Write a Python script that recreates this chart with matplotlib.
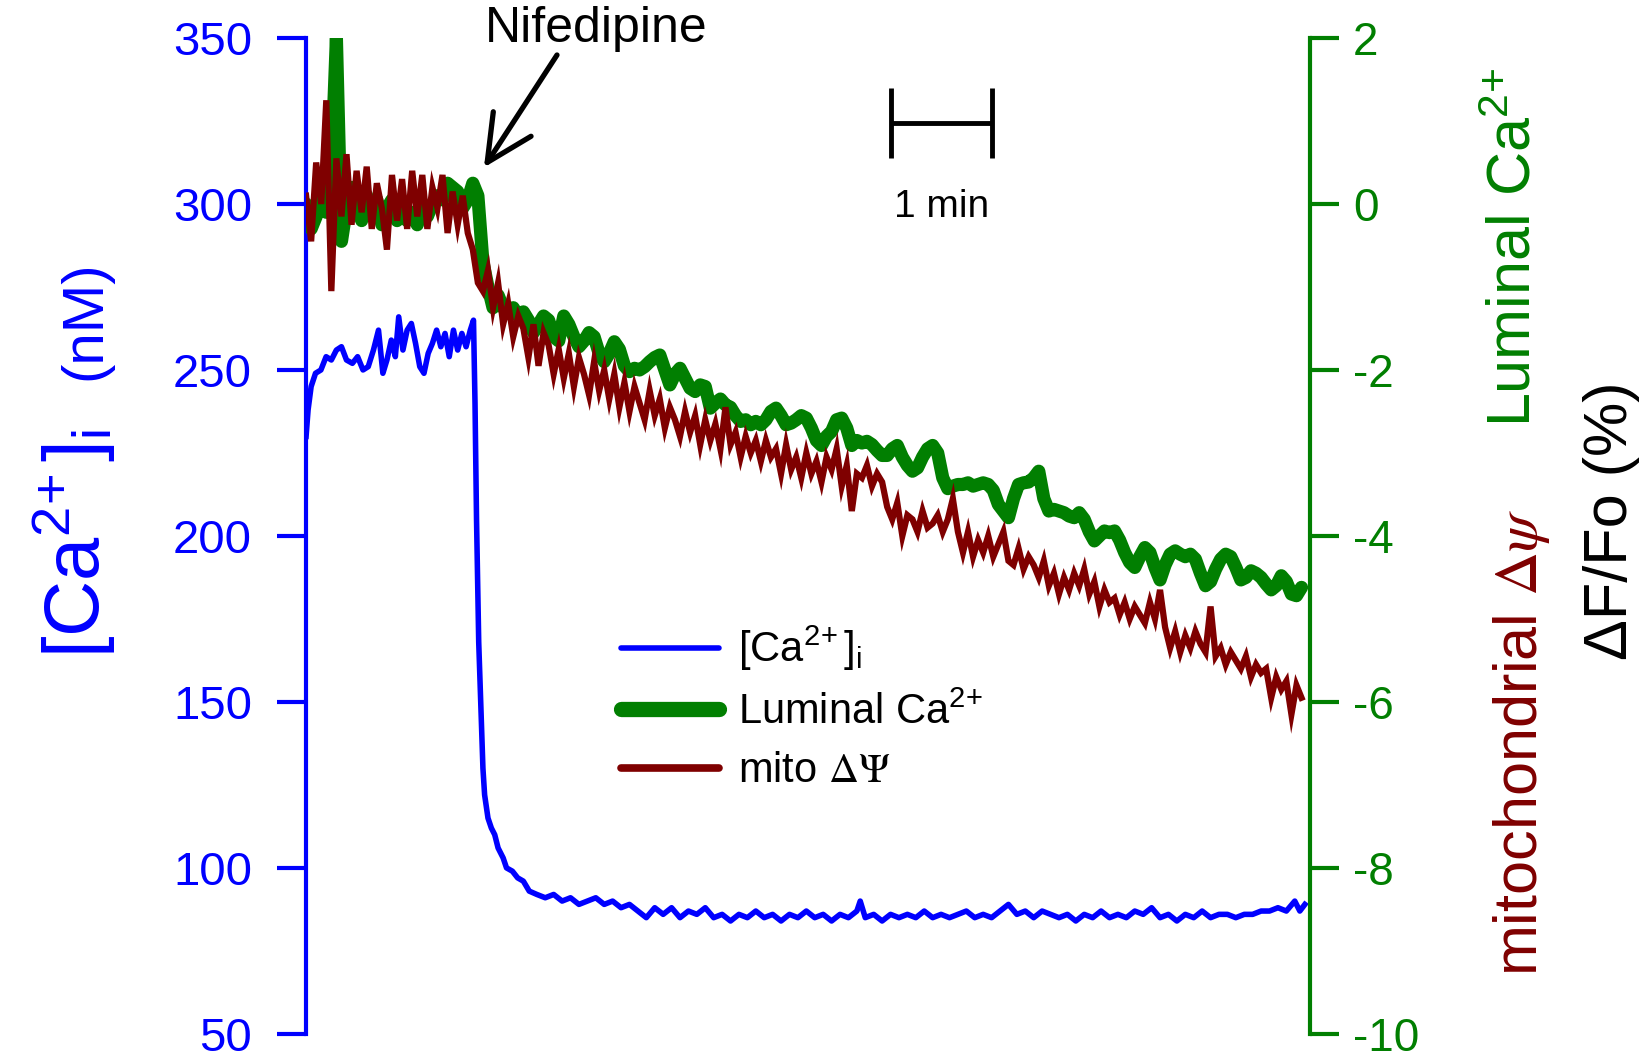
"""Cytosolic Ca2+, luminal Ca2+ and mitochondrial potential after nifedipine."""

import numpy as np
import matplotlib
matplotlib.use("Agg")
import matplotlib.pyplot as plt
from matplotlib.lines import Line2D

plt.rcParams["font.family"] = ["Liberation Sans", "DejaVu Sans"]
plt.rcParams["mathtext.fontset"] = "custom"
plt.rcParams["mathtext.rm"] = "Liberation Sans"
plt.rcParams["mathtext.it"] = "Liberation Sans:italic"
plt.rcParams["mathtext.bf"] = "Liberation Sans:bold"
plt.rcParams["axes.unicode_minus"] = False

BLUE = "#0000ff"
GREEN = "#017f01"
RED = "#7f0000"

# [Ca2+]i trace (s, nM)
cyto_t = [0, 1.2, 3, 5.6, 8.8, 11.9, 15, 18, 21, 24, 27.5, 30.6, 33.8, 36.9, 40,
          43, 45.6, 48, 50.6, 53, 55, 57.5, 60, 62.5, 65, 67.5, 70, 72.5, 75,
          77.5, 80, 82.5, 85, 87.5, 90, 92.5, 95, 97.5, 99.4, 100.3, 101.2,
          102.5, 104, 105, 106, 108, 110, 112, 114, 117, 119, 122.5, 125.6,
          129, 132.5, 137, 142, 147, 152, 157, 162, 167, 172, 177, 182, 187,
          192, 197, 202, 207, 212, 217, 222, 227, 232, 237, 242, 247, 252, 257,
          262, 267, 272, 277, 282, 287, 292, 297, 302, 307, 312, 317, 322, 327,
          329, 332, 337, 342, 347, 352, 357, 362, 367, 372, 377, 382, 387, 392,
          397, 402, 407, 412, 417, 422, 427, 432, 437, 442, 447, 452, 457, 462,
          467, 472, 477, 482, 487, 492, 497, 502, 507, 512, 517, 522, 527, 532,
          537, 542, 547, 552, 557, 562, 567, 572, 577, 582, 587, 590, 593]
cyto_ca = [230, 238, 245, 249, 250, 254, 253, 256, 257, 253, 252, 254, 250, 251,
           256, 262, 249, 253, 259, 254, 266, 256, 262, 264, 258, 251, 249, 255,
           258, 262, 257, 261, 254, 262, 256, 261, 257, 262, 265, 240, 205, 168,
           145, 130, 122, 115, 112, 110, 106, 103, 100, 99, 97, 96, 93, 92, 91,
           92, 90, 91, 89, 90, 91, 89, 90, 88, 89, 87, 85, 88, 86, 88, 85, 87,
           86, 88, 85, 86, 84, 86, 85, 87, 85, 86, 84, 86, 85, 87, 85, 86, 84,
           86, 85, 87, 90, 85, 86, 84, 86, 85, 86, 85, 87, 85, 86, 85, 86, 87,
           85, 86, 85, 87, 89, 86, 87, 85, 87, 86, 85, 86, 84, 86, 85, 87, 85,
           86, 85, 87, 86, 88, 85, 86, 84, 86, 85, 87, 85, 86, 86, 85, 86, 86,
           87, 87, 88, 87, 90, 87, 89]

# luminal Ca2+ and mito dPsi, sampled every 3 s (dF/Fo, %)
SAMPLE_S = 3.0
luminal = [
    0.00, -0.30, -0.15, 0.25, -0.10, 0.40, 2.00, -0.45, -0.05, 0.20,
    0.00, -0.20, 0.10, -0.15, 0.05, -0.25, -0.05, 0.05, -0.20, -0.10,
    -0.20, -0.10, -0.25, -0.05, -0.15, 0.00, 0.10, 0.05, 0.25, 0.20,
    0.15, -0.05, 0.05, 0.25, 0.10, -0.70, -1.00, -1.25, -1.10, -1.25,
    -1.30, -1.25, -1.35, -1.30, -1.40, -1.55, -1.45, -1.35, -1.40, -1.60,
    -1.65, -1.35, -1.45, -1.60, -1.72, -1.65, -1.55, -1.60, -1.80, -1.90,
    -1.80, -1.66, -1.75, -1.95, -2.02, -1.98, -2.00, -1.96, -1.90, -1.85,
    -1.82, -2.00, -2.18, -2.05, -1.98, -2.10, -2.22, -2.26, -2.18, -2.20,
    -2.46, -2.40, -2.35, -2.42, -2.45, -2.55, -2.62, -2.60, -2.66, -2.62,
    -2.66, -2.60, -2.50, -2.46, -2.55, -2.66, -2.64, -2.60, -2.55, -2.58,
    -2.70, -2.85, -2.91, -2.80, -2.74, -2.60, -2.58, -2.70, -2.91, -2.85,
    -2.88, -2.86, -2.90, -2.97, -3.03, -3.03, -2.95, -2.91, -3.05, -3.15,
    -3.22, -3.18, -3.05, -2.95, -2.91, -3.00, -3.30, -3.43, -3.40, -3.38,
    -3.38, -3.36, -3.40, -3.38, -3.36, -3.38, -3.45, -3.62, -3.70, -3.78,
    -3.55, -3.38, -3.36, -3.35, -3.30, -3.22, -3.55, -3.70, -3.68, -3.70,
    -3.72, -3.76, -3.78, -3.72, -3.80, -3.95, -4.06, -4.00, -3.94, -3.96,
    -3.94, -4.05, -4.20, -4.32, -4.38, -4.25, -4.14, -4.20, -4.38, -4.53,
    -4.35, -4.22, -4.18, -4.22, -4.25, -4.22, -4.28, -4.45, -4.60, -4.55,
    -4.40, -4.28, -4.22, -4.25, -4.38, -4.53, -4.50, -4.42, -4.45, -4.50,
    -4.58, -4.65, -4.60, -4.48, -4.55, -4.70, -4.72, -4.62,
]
mito = [
    0.10, -0.45, 0.50, 0.00, 1.25, -1.05, 0.55, -0.15, 0.60, -0.25,
    0.40, -0.10, 0.45, -0.30, 0.25, -0.05, -0.55, 0.35, -0.20, 0.30,
    -0.30, 0.40, -0.15, 0.35, -0.30, 0.20, -0.05, 0.35, -0.35, 0.15,
    -0.25, 0.10, -0.35, -0.55, -0.95, -1.05, -0.80, -1.25, -0.95, -1.45,
    -1.20, -1.60, -1.35, -1.50, -1.85, -1.45, -1.95, -1.55, -1.70, -2.05,
    -1.75, -2.10, -1.80, -2.20, -1.85, -2.05, -2.30, -1.90, -2.25, -2.00,
    -2.35, -2.05, -2.45, -2.15, -2.50, -2.20, -2.40, -2.60, -2.25, -2.55,
    -2.35, -2.70, -2.45, -2.60, -2.80, -2.50, -2.75, -2.55, -2.90, -2.60,
    -2.85, -2.65, -2.95, -2.45, -2.90, -2.75, -3.05, -2.80, -3.00, -2.85,
    -3.10, -2.85, -3.05, -2.95, -3.25, -2.90, -3.20, -3.05, -3.30, -3.00,
    -3.25, -3.10, -3.35, -3.05, -3.20, -2.95, -3.40, -3.15, -3.70, -3.25,
    -3.30, -3.15, -3.40, -3.25, -3.35, -3.65, -3.80, -3.60, -4.00, -3.75,
    -3.80, -3.95, -3.70, -3.90, -3.85, -3.75, -3.95, -3.80, -3.55, -3.95,
    -4.20, -3.95, -4.25, -4.05, -4.20, -4.00, -4.25, -4.10, -3.95, -4.30,
    -4.35, -4.15, -4.40, -4.25, -4.35, -4.50, -4.30, -4.60, -4.45, -4.70,
    -4.50, -4.65, -4.45, -4.60, -4.40, -4.70, -4.55, -4.85, -4.65, -4.80,
    -4.75, -4.95, -4.80, -5.00, -4.85, -4.95, -5.05, -4.80, -5.00, -4.65,
    -5.10, -5.35, -5.15, -5.40, -5.20, -5.35, -5.15, -5.30, -5.40, -4.85,
    -5.45, -5.35, -5.55, -5.40, -5.50, -5.60, -5.45, -5.70, -5.55, -5.65,
    -5.60, -5.95, -5.70, -5.85, -5.75, -6.15, -5.80, -5.95,
]
fluor_t = np.arange(len(mito)) * SAMPLE_S

NIFEDIPINE_TIP = (105.6, 311)   # arrow tip, (s, nM)
SCALE_START, SCALE_LEN = 347.5, 60.0

CA_SUP = r"Ca$^{2\!+}$"


def main():
    fig = plt.figure(figsize=(16.5, 10.62), dpi=100)
    ax = fig.add_axes([0.1855, 0.0265, 0.6084, 0.9377])
    ax2 = ax.twinx()

    ax.plot(cyto_t, cyto_ca, color=BLUE, lw=4, solid_joinstyle="round")
    ax2.plot(fluor_t, luminal, color=GREEN, lw=9.5, solid_joinstyle="round",
             solid_capstyle="round")
    ax2.plot(fluor_t, mito, color=RED, lw=4.5, solid_joinstyle="miter")

    ax.set_xlim(0, 596)
    ax.set_ylim(50, 350)
    ax.set_yticks(range(50, 351, 50))
    ax2.set_ylim(-10, 2)
    ax2.set_yticks(range(-10, 3, 2))
    ax.set_xticks([])

    for name in ["top", "right", "bottom"]:
        ax.spines[name].set_visible(False)
    for name in ["top", "left", "bottom"]:
        ax2.spines[name].set_visible(False)
    ax.spines["left"].set_color(BLUE)
    ax.spines["left"].set_linewidth(3)
    ax2.spines["right"].set_color(GREEN)
    ax2.spines["right"].set_linewidth(3)
    ax.tick_params(axis="y", direction="out", length=21, width=3,
                   colors=BLUE, labelsize=34, pad=18)
    ax2.tick_params(axis="y", direction="out", length=21, width=3,
                    colors=GREEN, labelsize=33, pad=10)

    # axis titles
    fig.text(74 / 1650, 1 - 543 / 1062, r"[Ca$^{2\!+}$]$_{\mathrm{i}}$",
             rotation=90, ha="center", va="center", color=BLUE, fontsize=56)
    fig.text(85 / 1650, 1 - 320 / 1062, "(nM)", rotation=90,
             ha="center", va="center", color=BLUE, fontsize=42)
    fig.text(1515 / 1650, 1 - 247 / 1062, "Luminal " + CA_SUP, rotation=90,
             ha="center", va="center", color=GREEN, fontsize=44)
    fig.text(1522 / 1650, 1 - 742 / 1062, r"mitochondrial $\Delta\psi$",
             rotation=90, ha="center", va="center", color=RED, fontsize=44,
             math_fontfamily="stix")
    fig.text(1612 / 1650, 1 - 521 / 1062, "ΔF/Fo (%)", rotation=90,
             ha="center", va="center", color="black", fontsize=44)

    # nifedipine marker
    fig.text(596 / 1650, 1 - 42 / 1062, "Nifedipine", ha="center",
             va="baseline", fontsize=36)
    ax.annotate("", xy=NIFEDIPINE_TIP, xycoords="data",
                xytext=(557 / 1650, 1 - 55 / 1062), textcoords="figure fraction",
                arrowprops=dict(arrowstyle="->, head_length=0.55, head_width=0.27",
                                lw=3.8, color="black", mutation_scale=60,
                                shrinkA=0, shrinkB=0))

    # time scale bar
    x0, x1 = SCALE_START, SCALE_START + SCALE_LEN
    ax.plot([x0, x1], [324.5, 324.5], color="black", lw=3.5,
            solid_capstyle="butt")
    ax.plot([x0, x0], [314, 335], color="black", lw=3.5, solid_capstyle="butt")
    ax.plot([x1, x1], [314, 335], color="black", lw=3.5, solid_capstyle="butt")
    ax.text((x0 + x1) / 2, 299, "1 min", ha="center", va="center", fontsize=28)

    handles = [
        Line2D([], [], color=BLUE, lw=4, solid_capstyle="round"),
        Line2D([], [], color=GREEN, lw=11, solid_capstyle="round"),
        Line2D([], [], color=RED, lw=5.5, solid_capstyle="round"),
    ]
    labels = [r"[Ca$^{2\!+}$]$_{\mathrm{i}}$", "Luminal " + CA_SUP,
              r"mito $\Delta\Psi$"]
    leg = ax2.legend(handles, labels, loc="upper left",
                     bbox_to_anchor=(621 / 1650, 1 - 624 / 1062),
                     bbox_transform=fig.transFigure, frameon=False,
                     fontsize=30, handlelength=2.35, handletextpad=0.45,
                     labelspacing=0.45, borderpad=0, borderaxespad=0)
    leg.get_texts()[2].set_math_fontfamily("stix")

    fig.savefig("out.png", dpi=100)
    plt.close(fig)


if __name__ == "__main__":
    main()
